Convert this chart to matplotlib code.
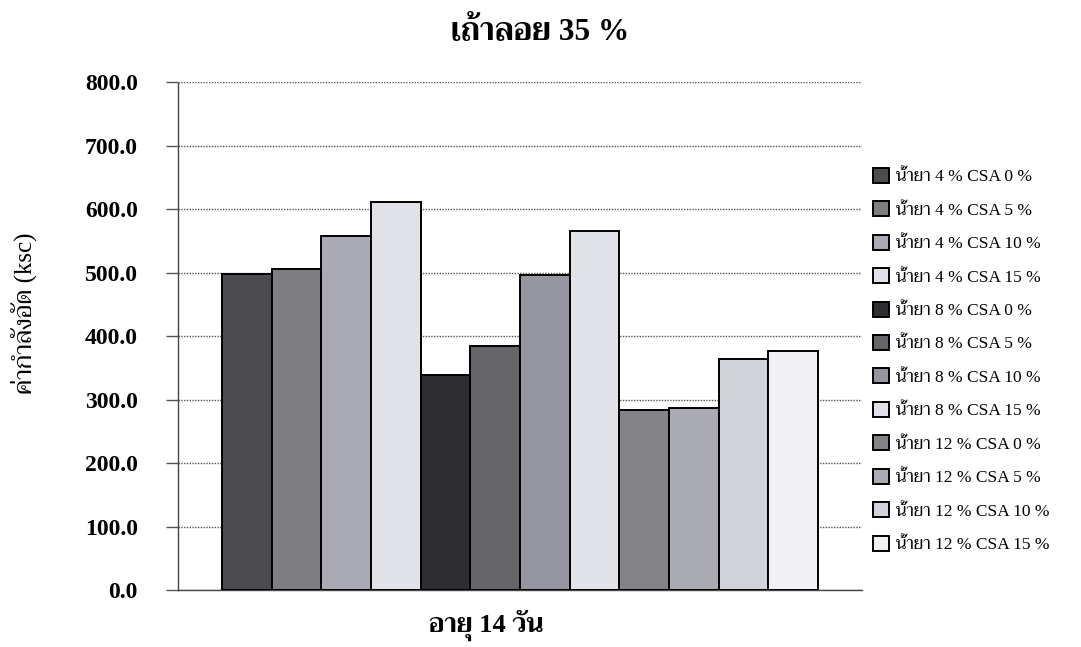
import numpy as np
import matplotlib
matplotlib.use("Agg")
import matplotlib.pyplot as plt

plt.rcParams['font.family'] = ['Liberation Serif', 'Trirong']

labels = ['น้ำยา 4 % CSA 0 %', 'น้ำยา 4 % CSA 5 %', 'น้ำยา 4 % CSA 10 %', 'น้ำยา 4 % CSA 15 %',
          'น้ำยา 8 % CSA 0 %', 'น้ำยา 8 % CSA 5 %', 'น้ำยา 8 % CSA 10 %', 'น้ำยา 8 % CSA 15 %',
          'น้ำยา 12 % CSA 0 %', 'น้ำยา 12 % CSA 5 %', 'น้ำยา 12 % CSA 10 %', 'น้ำยา 12 % CSA 15 %']
strength = [498, 505, 557, 611, 339, 384, 496, 565, 283, 286, 364, 376]
yticks = [0, 100, 200, 300, 400, 500, 600, 700, 800]

colors = ['#4b4b50', '#7d7d82', '#aaaab4', '#e1e1e8',
          '#2d2d32', '#646469', '#9696a0', '#e1e1e8',
          '#828287', '#aaaab2', '#d2d2da', '#f0f0f5']

fig = plt.figure(figsize=(10.81, 6.47), dpi=100)
ax = fig.add_axes([0.1647, 0.088, 0.6326, 0.785])

n = len(strength)
group = 0.871
w = group / n
xs = -group / 2 + w / 2 + np.arange(n) * w
for x, v, c, lab in zip(xs, strength, colors, labels):
    ax.bar(x, v, width=w, color=c, edgecolor='black', linewidth=1.4, label=lab, zorder=3)

ax.set_xlim(-0.5, 0.5)
ax.set_ylim(0, 800)
ax.set_yticks(yticks)
ax.set_yticklabels(['%.1f' % t for t in yticks], fontsize=17, fontweight='bold',
                   family='Liberation Serif')
ax.set_xticks([])
ax.yaxis.grid(True, linestyle=(0, (1, 1)), color='#555555', linewidth=1.0, zorder=0)
ax.tick_params(axis='y', direction='out', length=9, width=1.0, color='#555555', pad=20)

for s in ['top', 'right']:
    ax.spines[s].set_visible(False)
for s in ['left', 'bottom']:
    ax.spines[s].set_linestyle((0, (1, 1)))
    ax.spines[s].set_color('#444444')
    ax.spines[s].set_linewidth(1.0)

fig.text(0.022, 0.516, 'ค่ากำลังอัด (ksc)', rotation=90, ha='center', va='center', fontsize=18)
fig.text(0.5, 0.95, 'เถ้าลอย 35 %', ha='center', va='center', fontsize=22.5, fontweight='bold')
fig.text(0.45, 0.034, 'อายุ 14 วัน', ha='center', va='center', fontsize=19, fontweight='bold')

fig.legend(loc='upper left', bbox_to_anchor=(0.7995, 0.754), frameon=False,
           fontsize=12.5, handlelength=0.95, handleheight=0.95, handletextpad=0.4,
           labelspacing=0.92, borderpad=0)

fig.savefig('out.png', dpi=100)
